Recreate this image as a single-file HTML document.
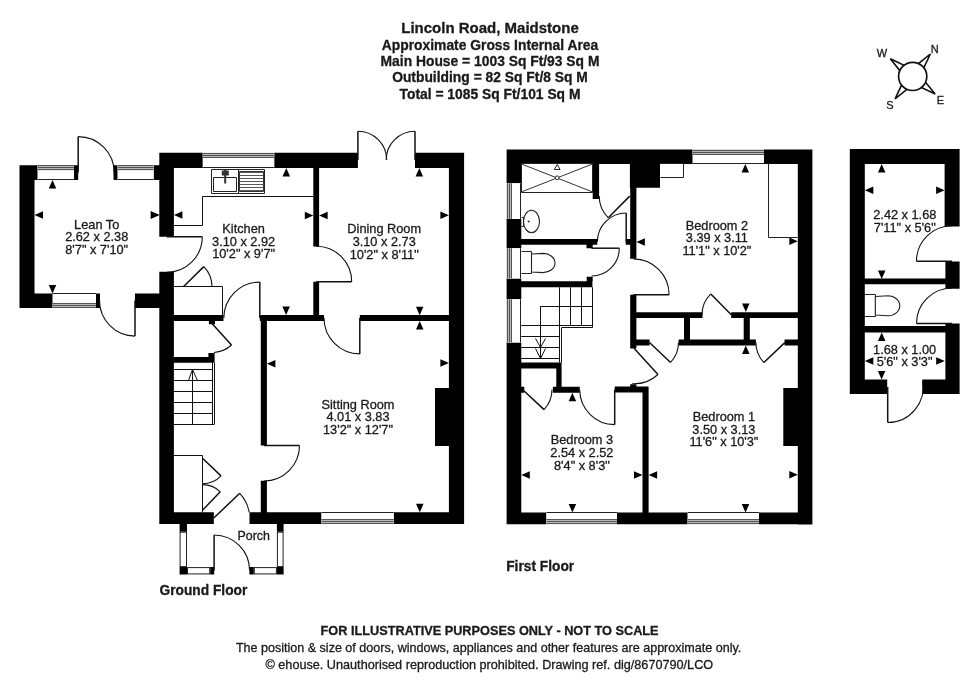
<!DOCTYPE html>
<html><head><meta charset="utf-8"><style>
html,body{margin:0;padding:0;background:#fff;width:980px;height:692px;overflow:hidden}
svg{display:block}
text{font-family:"Liberation Sans",sans-serif}
svg{will-change:transform}
</style></head><body>
<svg width="980" height="692" viewBox="0 0 980 692">
<rect width="980" height="692" fill="#fff"/>
<path fill="#000" d="M19.5 165.3H34.5V307.9H19.5ZM19.5 165.3H37.7V180H19.5ZM74 165.3H78.2V180H74ZM113.5 165.3H117.7V180H113.5ZM153.6 165.3H159.5V180H153.6ZM19.5 293.4H52.7V307.9H19.5ZM96 293.4H100V307.9H96ZM135 293.4H159.5V307.9H135ZM159.3 152.8H202.8V167.9H159.3ZM274.2 152.8H357.9V167.9H274.2ZM415 152.8H464.1V167.9H415ZM159.3 152.8H173.9V236.8H159.3ZM159.3 271.8H173.9V523.9H159.3ZM448.9 152.8H464.1V524H448.9ZM159.3 512.3H213.8V523.9H159.3ZM249.5 512.3H321.5V523.9H249.5ZM393.7 512.3H464.1V523.9H393.7ZM313.3 167.3H319.1V246.5H313.3ZM313.3 281.7H319.1V321.1H313.3ZM173.9 315.1H223.5V321.1H173.9ZM259.8 315.1H324V321.1H259.8ZM359.8 315.1H449.6V321.1H359.8ZM260.8 315.1H266.9V445.5H260.8ZM260.8 480.7H266.9V512.3H260.8ZM173.9 356.9H214.4V362.7H173.9ZM208.4 353.1H214.6V362.7H208.4ZM208.9 321.1H215V324.3H208.9ZM435 388.1H449.6V445.9H435ZM179.6 523H187V531.7H179.6ZM179.6 567.1H187V574.4H179.6ZM210.2 567.1H214.2V574.4H210.2ZM249.4 567.1H253.8V574.4H249.4ZM276.9 567.1H283.6V574.4H276.9ZM276.9 523H283.6V531.7H276.9ZM506.6 149.5H692.7V163.9H506.6ZM764 149.5H812.4V163.9H764ZM506.6 149.5H521.3V183.3H506.6ZM506.6 218.9H521.3V248.2H506.6ZM506.6 278.5H521.3V299.3H506.6ZM506.6 342.5H521.3V524.2H506.6ZM797.8 149.5H812.4V524.4H797.8ZM506.6 512.4H546.4V524.2H506.6ZM617 512.4H687.7V524.2H617ZM759 512.4H812.4V524.2H759ZM783.3 388.1H797.8V445.9H783.3ZM592.7 163.9H599.1V199.1H592.7ZM521.3 238.9H597.3V244.8H521.3ZM586.5 244.8H592.7V248.2H586.5ZM625.7 238.9H630.2V244.8H625.7ZM521.3 281.3H592.4V287.2H521.3ZM586.7 276.8H592.7V281.3H586.7ZM629.9 163.9H660V187.7H629.9ZM630.2 163.9H636.4V258.7H630.2ZM630.2 294.7H636.4V348.5H630.2ZM521.3 362.5H561.6V368.5H521.3ZM556.3 362.5H561.6V392.8H556.3ZM521.3 386.7H524.3V392.8H521.3ZM552.9 386.7H579.7V392.8H552.9ZM614.7 386.4H648.6V392.5H614.7ZM642.5 386.4H648.6V512.4H642.5ZM630.2 384.2H636.4V386.6H630.2ZM636.4 312.2H702.5V318H636.4ZM731.2 312.2H797.8V318H731.2ZM684 318H690V339.7H684ZM743.7 318H749.8V339.7H743.7ZM630.2 339.6H649.6V345.5H630.2ZM678.6 339.6H755.9V345.5H678.6ZM784.5 339.6H797.8V345.5H784.5ZM849.8 149H959.6V164H849.8ZM849.8 149H864.8V394H849.8ZM944.6 149H959.6V226.5H944.6ZM945.4 261.6H959.6V288.8H945.4ZM945.4 323.5H959.6V394H945.4ZM864.8 278.6H945.4V284.3H864.8ZM864.8 326.1H945.4V332.5H864.8ZM849.8 379.5H887.2V394H849.8ZM922.3 379.5H959.6V394H922.3Z"/>
<rect x="37.7" y="165.3" width="36.3" height="14.7" fill="#fff"/>
<rect x="37.7" y="165.3" width="36.3" height="5" fill="#b8b8b8"/>
<line x1="37.7" y1="165.5" x2="74" y2="165.5" stroke="#555" stroke-width="1"/>
<line x1="37.7" y1="167.5" x2="74" y2="167.5" stroke="#555" stroke-width="1"/>
<line x1="37.7" y1="169.5" x2="74" y2="169.5" stroke="#555" stroke-width="1"/>
<line x1="37.7" y1="179.5" x2="74" y2="179.5" stroke="#222" stroke-width="1"/>
<rect x="117.7" y="165.3" width="35.9" height="14.7" fill="#fff"/>
<rect x="117.7" y="165.3" width="35.9" height="5" fill="#b8b8b8"/>
<line x1="117.7" y1="165.5" x2="153.6" y2="165.5" stroke="#555" stroke-width="1"/>
<line x1="117.7" y1="167.5" x2="153.6" y2="167.5" stroke="#555" stroke-width="1"/>
<line x1="117.7" y1="169.5" x2="153.6" y2="169.5" stroke="#555" stroke-width="1"/>
<line x1="117.7" y1="179.5" x2="153.6" y2="179.5" stroke="#222" stroke-width="1"/>
<rect x="52.7" y="293.4" width="43.3" height="14.5" fill="#fff"/>
<rect x="52.7" y="302.9" width="43.3" height="5" fill="#b8b8b8"/>
<line x1="52.7" y1="307.5" x2="96" y2="307.5" stroke="#555" stroke-width="1"/>
<line x1="52.7" y1="305.5" x2="96" y2="305.5" stroke="#555" stroke-width="1"/>
<line x1="52.7" y1="303.5" x2="96" y2="303.5" stroke="#555" stroke-width="1"/>
<line x1="52.7" y1="293.5" x2="96" y2="293.5" stroke="#222" stroke-width="1"/>
<path d="M78.2,172.6 L78.2,136.6" fill="none" stroke="#111" stroke-width="1.5"/>
<path d="M78.2,136.6 A36,36 0 0 1 114.2,172.6" fill="none" stroke="#111" stroke-width="1.1"/>
<path d="M135,300.6 L135,336.1" fill="none" stroke="#111" stroke-width="1.5"/>
<path d="M135,336.1 A35.5,35.5 0 0 1 99.5,300.6" fill="none" stroke="#111" stroke-width="1.1"/>
<polygon points="52.5,180 48.75,188.5 56.25,188.5" fill="#000"/>
<polygon points="52.5,293.4 48.75,284.9 56.25,284.9" fill="#000"/>
<polygon points="34.5,214.9 43,211.15 43,218.65" fill="#000"/>
<polygon points="159.3,214.9 150.8,211.15 150.8,218.65" fill="#000"/>
<rect x="202.8" y="152.8" width="71.4" height="15.1" fill="#fff"/>
<rect x="202.8" y="152.8" width="71.4" height="5" fill="#b8b8b8"/>
<line x1="202.8" y1="153.5" x2="274.2" y2="153.5" stroke="#555" stroke-width="1"/>
<line x1="202.8" y1="155.5" x2="274.2" y2="155.5" stroke="#555" stroke-width="1"/>
<line x1="202.8" y1="157.5" x2="274.2" y2="157.5" stroke="#555" stroke-width="1"/>
<line x1="202.8" y1="167.5" x2="274.2" y2="167.5" stroke="#222" stroke-width="1"/>
<rect x="321.5" y="512.3" width="72.2" height="11.6" fill="#fff"/>
<rect x="321.5" y="518.9" width="72.2" height="5" fill="#b8b8b8"/>
<line x1="321.5" y1="523.5" x2="393.7" y2="523.5" stroke="#555" stroke-width="1"/>
<line x1="321.5" y1="521.5" x2="393.7" y2="521.5" stroke="#555" stroke-width="1"/>
<line x1="321.5" y1="519.5" x2="393.7" y2="519.5" stroke="#555" stroke-width="1"/>
<line x1="321.5" y1="512.5" x2="393.7" y2="512.5" stroke="#222" stroke-width="1"/>
<path d="M357.9,160 L357.9,131.2" fill="none" stroke="#111" stroke-width="1.5"/>
<path d="M357.9,131.2 A28.8,28.8 0 0 1 386.7,160" fill="none" stroke="#111" stroke-width="1.1"/>
<path d="M415,160 L415,131.2" fill="none" stroke="#111" stroke-width="1.5"/>
<path d="M415,131.2 A28.8,28.8 0 0 0 386.2,160" fill="none" stroke="#111" stroke-width="1.1"/>
<path d="M166.8,236.8 L202.3,236.8" fill="none" stroke="#111" stroke-width="1.5"/>
<path d="M202.3,236.8 A35.5,35.5 0 0 1 166.8,272.3" fill="none" stroke="#111" stroke-width="1.1"/>
<polyline points="173.5,225.5 202.5,225.5 202.5,196.5 313.5,196.5" fill="none" stroke="#111" stroke-width="1.0"/>
<polygon points="211.5,169.5 264.5,169.5 264.5,193.5 211.5,193.5" fill="none" stroke="#222" stroke-width="1.0"/>
<line x1="238.5" y1="169.9" x2="238.5" y2="193.3" stroke="#222" stroke-width="1.0"/>
<polygon points="213.5,177.5 236.5,177.5 236.5,191.5 213.5,191.5" fill="none" stroke="#222" stroke-width="1.0"/>
<polygon points="239.5,171.5 263.5,171.5 263.5,191.5 239.5,191.5" fill="none" stroke="#333" stroke-width="1.0"/>
<line x1="239.6" y1="172.5" x2="263.5" y2="172.5" stroke="#444" stroke-width="0.9"/>
<line x1="239.6" y1="175.5" x2="263.5" y2="175.5" stroke="#444" stroke-width="0.9"/>
<line x1="239.6" y1="178.5" x2="263.5" y2="178.5" stroke="#444" stroke-width="0.9"/>
<line x1="239.6" y1="181.5" x2="263.5" y2="181.5" stroke="#444" stroke-width="0.9"/>
<line x1="239.6" y1="184.5" x2="263.5" y2="184.5" stroke="#444" stroke-width="0.9"/>
<line x1="239.6" y1="187.5" x2="263.5" y2="187.5" stroke="#444" stroke-width="0.9"/>
<line x1="239.6" y1="190.5" x2="263.5" y2="190.5" stroke="#444" stroke-width="0.9"/>
<rect x="221.8" y="170.6" width="7" height="4.9" fill="#333"/>
<line x1="225.2" y1="170" x2="225.2" y2="183.5" stroke="#333" stroke-width="2"/>
<polyline points="173.5,286.5 222.5,286.5 222.5,315.5" fill="none" stroke="#111" stroke-width="1.0"/>
<path d="M183.4,286.7 L203.8,266.65" fill="none" stroke="#111" stroke-width="1.5"/>
<path d="M203.8,266.65 A28.6,28.6 0 0 1 212,286.7" fill="none" stroke="#111" stroke-width="1.1"/>
<path d="M259.8,318.1 L259.8,282.1" fill="none" stroke="#111" stroke-width="1.5"/>
<path d="M259.8,282.1 A36,36 0 0 0 223.8,318.1" fill="none" stroke="#111" stroke-width="1.1"/>
<path d="M316.2,281.7 L351.7,281.7" fill="none" stroke="#111" stroke-width="1.5"/>
<path d="M351.7,281.7 A35.5,35.5 0 0 0 316.2,246.2" fill="none" stroke="#111" stroke-width="1.1"/>
<path d="M359.8,318.1 L359.8,353.9" fill="none" stroke="#111" stroke-width="1.5"/>
<path d="M359.8,353.9 A35.8,35.8 0 0 1 324,318.1" fill="none" stroke="#111" stroke-width="1.1"/>
<path d="M264,445.5 L299.5,445.5" fill="none" stroke="#111" stroke-width="1.5"/>
<path d="M299.5,445.5 A35.5,35.5 0 0 1 264,481" fill="none" stroke="#111" stroke-width="1.1"/>
<path d="M212,323.5 L231.48,344.98" fill="none" stroke="#111" stroke-width="1.5"/>
<path d="M231.48,344.98 A29,29 0 0 1 214.02,352.43" fill="none" stroke="#111" stroke-width="1.1"/>
<polyline points="173.5,424.5 214.5,424.5" fill="none" stroke="#111" stroke-width="1.1"/>
<line x1="212.5" y1="362.7" x2="212.5" y2="424" stroke="#111" stroke-width="1.0"/>
<line x1="214.5" y1="362.7" x2="214.5" y2="424" stroke="#111" stroke-width="1.0"/>
<line x1="173.9" y1="369.5" x2="212.2" y2="369.5" stroke="#111" stroke-width="1.0"/>
<line x1="173.9" y1="380.5" x2="212.2" y2="380.5" stroke="#111" stroke-width="1.0"/>
<line x1="173.9" y1="391.5" x2="212.2" y2="391.5" stroke="#111" stroke-width="1.0"/>
<line x1="173.9" y1="402.5" x2="212.2" y2="402.5" stroke="#111" stroke-width="1.0"/>
<line x1="173.9" y1="413.5" x2="212.2" y2="413.5" stroke="#111" stroke-width="1.0"/>
<line x1="192.5" y1="369.9" x2="192.5" y2="424" stroke="#111" stroke-width="1.0"/>
<polyline points="188.5,380.5 192.5,369.5 197.5,380.5" fill="none" stroke="#111" stroke-width="1.0"/>
<polyline points="173.5,455.5 202.5,455.5 202.5,512.5" fill="none" stroke="#111" stroke-width="1.0"/>
<path d="M202.5,458.2 L221.01,475.89" fill="none" stroke="#111" stroke-width="1.5"/>
<path d="M221.01,475.89 A25.6,25.6 0 0 1 202.5,483.8" fill="none" stroke="#111" stroke-width="1.1"/>
<path d="M202.5,510.2 L220.28,491.78" fill="none" stroke="#111" stroke-width="1.5"/>
<path d="M220.28,491.78 A25.6,25.6 0 0 0 202.5,484.6" fill="none" stroke="#111" stroke-width="1.1"/>
<path d="M213.8,518 L239.73,493.31" fill="none" stroke="#111" stroke-width="1.5"/>
<path d="M239.73,493.31 A35.8,35.8 0 0 1 249.16,512.4" fill="none" stroke="#111" stroke-width="1.1"/>
<polygon points="286.3,167.9 282.55,176.4 290.05,176.4" fill="#000"/>
<polygon points="286.1,315.1 282.35,306.6 289.85,306.6" fill="#000"/>
<polygon points="159.3,214.9 150.8,211.15 150.8,218.65" fill="#000"/>
<polygon points="173.9,214.9 182.4,211.15 182.4,218.65" fill="#000"/>
<polygon points="313.3,215.4 304.8,211.65 304.8,219.15" fill="#000"/>
<polygon points="319.1,215.4 327.6,211.65 327.6,219.15" fill="#000"/>
<polygon points="419.3,167.9 415.55,176.4 423.05,176.4" fill="#000"/>
<polygon points="448.9,215.3 440.4,211.55 440.4,219.05" fill="#000"/>
<polygon points="419.7,315.3 415.95,306.8 423.45,306.8" fill="#000"/>
<polygon points="419.7,321.1 415.95,329.6 423.45,329.6" fill="#000"/>
<polygon points="266.9,363.8 275.4,360.05 275.4,367.55" fill="#000"/>
<polygon points="448.9,363 440.4,359.25 440.4,366.75" fill="#000"/>
<polygon points="419.8,512.3 416.05,503.8 423.55,503.8" fill="#000"/>
<rect x="180.1" y="532.2" width="6.4" height="34.4" fill="#fff" stroke="#222" stroke-width="1"/>
<rect x="187.5" y="567.6" width="22.2" height="6.3" fill="#fff" stroke="#222" stroke-width="1"/>
<rect x="254.3" y="567.6" width="22.1" height="6.3" fill="#fff" stroke="#222" stroke-width="1"/>
<rect x="277.4" y="532.2" width="5.7" height="34.4" fill="#fff" stroke="#222" stroke-width="1"/>
<path d="M214.1,570.5 L214.1,535" fill="none" stroke="#111" stroke-width="1.5"/>
<path d="M214.1,535 A35.5,35.5 0 0 1 249.6,570.5" fill="none" stroke="#111" stroke-width="1.1"/>
<rect x="692.7" y="149.5" width="71.3" height="14.4" fill="#fff"/>
<rect x="692.7" y="149.5" width="71.3" height="5" fill="#b8b8b8"/>
<line x1="692.7" y1="150.5" x2="764" y2="150.5" stroke="#555" stroke-width="1"/>
<line x1="692.7" y1="152.5" x2="764" y2="152.5" stroke="#555" stroke-width="1"/>
<line x1="692.7" y1="154.5" x2="764" y2="154.5" stroke="#555" stroke-width="1"/>
<line x1="692.7" y1="163.5" x2="764" y2="163.5" stroke="#222" stroke-width="1"/>
<rect x="506.6" y="183.3" width="14.7" height="35.6" fill="#fff"/>
<rect x="506.6" y="183.3" width="5" height="35.6" fill="#b8b8b8"/>
<line x1="507.5" y1="183.3" x2="507.5" y2="218.9" stroke="#555" stroke-width="1"/>
<line x1="509.5" y1="183.3" x2="509.5" y2="218.9" stroke="#555" stroke-width="1"/>
<line x1="511.5" y1="183.3" x2="511.5" y2="218.9" stroke="#555" stroke-width="1"/>
<line x1="520.5" y1="183.3" x2="520.5" y2="218.9" stroke="#222" stroke-width="1"/>
<rect x="506.6" y="248.2" width="14.7" height="30.3" fill="#fff"/>
<rect x="506.6" y="248.2" width="5" height="30.3" fill="#b8b8b8"/>
<line x1="507.5" y1="248.2" x2="507.5" y2="278.5" stroke="#555" stroke-width="1"/>
<line x1="509.5" y1="248.2" x2="509.5" y2="278.5" stroke="#555" stroke-width="1"/>
<line x1="511.5" y1="248.2" x2="511.5" y2="278.5" stroke="#555" stroke-width="1"/>
<line x1="520.5" y1="248.2" x2="520.5" y2="278.5" stroke="#222" stroke-width="1"/>
<rect x="506.6" y="299.3" width="14.7" height="43.2" fill="#fff"/>
<rect x="506.6" y="299.3" width="5" height="43.2" fill="#b8b8b8"/>
<line x1="507.5" y1="299.3" x2="507.5" y2="342.5" stroke="#555" stroke-width="1"/>
<line x1="509.5" y1="299.3" x2="509.5" y2="342.5" stroke="#555" stroke-width="1"/>
<line x1="511.5" y1="299.3" x2="511.5" y2="342.5" stroke="#555" stroke-width="1"/>
<line x1="520.5" y1="299.3" x2="520.5" y2="342.5" stroke="#222" stroke-width="1"/>
<rect x="546.4" y="512.4" width="70.6" height="11.8" fill="#fff"/>
<rect x="546.4" y="519.2" width="70.6" height="5" fill="#b8b8b8"/>
<line x1="546.4" y1="523.5" x2="617" y2="523.5" stroke="#555" stroke-width="1"/>
<line x1="546.4" y1="521.5" x2="617" y2="521.5" stroke="#555" stroke-width="1"/>
<line x1="546.4" y1="519.5" x2="617" y2="519.5" stroke="#555" stroke-width="1"/>
<line x1="546.4" y1="512.5" x2="617" y2="512.5" stroke="#222" stroke-width="1"/>
<rect x="687.7" y="512.4" width="71.3" height="11.8" fill="#fff"/>
<rect x="687.7" y="519.2" width="71.3" height="5" fill="#b8b8b8"/>
<line x1="687.7" y1="523.5" x2="759" y2="523.5" stroke="#555" stroke-width="1"/>
<line x1="687.7" y1="521.5" x2="759" y2="521.5" stroke="#555" stroke-width="1"/>
<line x1="687.7" y1="519.5" x2="759" y2="519.5" stroke="#555" stroke-width="1"/>
<line x1="687.7" y1="512.5" x2="759" y2="512.5" stroke="#222" stroke-width="1"/>
<polygon points="521.5,163.5 592.5,163.5 592.5,192.5 521.5,192.5" fill="none" stroke="#222" stroke-width="1.0"/>
<line x1="521.3" y1="163.9" x2="592.7" y2="192" stroke="#333" stroke-width="1.0"/>
<line x1="521.3" y1="192" x2="592.7" y2="163.9" stroke="#333" stroke-width="1.0"/>
<circle cx="557.2" cy="177.8" r="1.9" fill="#fff" stroke="#222" stroke-width="1"/>
<polygon points="557.2,164.5 554.3,169.5 560.1,169.5" fill="#fff" stroke="#222" stroke-width="1"/>
<ellipse cx="531.5" cy="221.5" rx="8.0" ry="11.2" fill="#fff" stroke="#222" stroke-width="1.1"/>
<polyline points="521.5,217.5 523.5,217.5 523.5,226.5 521.5,226.5" fill="none" stroke="#222" stroke-width="1.0"/>
<circle cx="528.7" cy="221.5" r="1.1" fill="#333"/>
<path d="M629.7,196.1 L608.28,217.82" fill="none" stroke="#111" stroke-width="1.5"/>
<path d="M608.28,217.82 A30.5,30.5 0 0 1 599.2,196.1" fill="none" stroke="#111" stroke-width="1.1"/>
<path d="M626.2,241.8 L626.2,213" fill="none" stroke="#111" stroke-width="1.5"/>
<path d="M626.2,213 A28.8,28.8 0 0 0 597.4,241.8" fill="none" stroke="#111" stroke-width="1.1"/>
<path d="M591.5,248.2 L619.3,248.2" fill="none" stroke="#111" stroke-width="1.5"/>
<path d="M619.3,248.2 A27.8,27.8 0 0 1 591.5,276" fill="none" stroke="#111" stroke-width="1.1"/>
<polyline points="521.5,251.5 531.5,251.5 531.5,273.5 521.5,273.5" fill="none" stroke="#222" stroke-width="1.0"/>
<path d="M531.5,254 L543,253.4 A12,9.6 0 0 1 543,272.6 L531.5,272 Z" fill="#fff" stroke="#222" stroke-width="1.1"/>
<polyline points="660.5,163.5 683.5,163.5 683.5,177.5 660.5,177.5" fill="none" stroke="#222" stroke-width="1.0"/>
<path d="M633.3,294.7 L669.1,294.7" fill="none" stroke="#111" stroke-width="1.5"/>
<path d="M669.1,294.7 A35.8,35.8 0 0 0 633.3,258.9" fill="none" stroke="#111" stroke-width="1.1"/>
<line x1="559.5" y1="287.2" x2="559.5" y2="325.5" stroke="#111" stroke-width="1.0"/>
<line x1="570.5" y1="287.2" x2="570.5" y2="325.5" stroke="#111" stroke-width="1.0"/>
<line x1="581.5" y1="287.2" x2="581.5" y2="325.5" stroke="#111" stroke-width="1.0"/>
<line x1="592.5" y1="287.2" x2="592.5" y2="327.5" stroke="#111" stroke-width="1.0"/>
<line x1="540.4" y1="306.5" x2="592.6" y2="306.5" stroke="#111" stroke-width="1.0"/>
<line x1="540.5" y1="306.4" x2="540.5" y2="358.7" stroke="#111" stroke-width="1.0"/>
<line x1="521.3" y1="325.5" x2="592.6" y2="325.5" stroke="#111" stroke-width="1.0"/>
<line x1="561.8" y1="327.5" x2="592.6" y2="327.5" stroke="#111" stroke-width="1.0"/>
<line x1="559.5" y1="325.5" x2="559.5" y2="362.6" stroke="#111" stroke-width="1.0"/>
<line x1="561.5" y1="327.5" x2="561.5" y2="362.6" stroke="#111" stroke-width="1.0"/>
<line x1="521.3" y1="336.5" x2="559.9" y2="336.5" stroke="#111" stroke-width="1.0"/>
<line x1="521.3" y1="347.5" x2="559.9" y2="347.5" stroke="#111" stroke-width="1.0"/>
<line x1="521.3" y1="358.5" x2="559.9" y2="358.5" stroke="#111" stroke-width="1.0"/>
<polyline points="535.5,338.5 540.5,347.5 545.5,338.5" fill="none" stroke="#111" stroke-width="1.0"/>
<polyline points="535.5,348.5 540.5,358.5 545.5,348.5" fill="none" stroke="#111" stroke-width="1.0"/>
<path d="M522.5,389.5 L544.07,409.62" fill="none" stroke="#111" stroke-width="1.5"/>
<path d="M544.07,409.62 A29.5,29.5 0 0 0 552,389.5" fill="none" stroke="#111" stroke-width="1.1"/>
<path d="M614.7,389.6 L614.7,424.6" fill="none" stroke="#111" stroke-width="1.5"/>
<path d="M614.7,424.6 A35,35 0 0 1 579.7,389.6" fill="none" stroke="#111" stroke-width="1.1"/>
<path d="M649.5,342.5 L670.54,362.46" fill="none" stroke="#111" stroke-width="1.5"/>
<path d="M670.54,362.46 A29,29 0 0 0 678.5,342.5" fill="none" stroke="#111" stroke-width="1.1"/>
<path d="M731.5,315 L710.82,293.96" fill="none" stroke="#111" stroke-width="1.5"/>
<path d="M710.82,293.96 A29.5,29.5 0 0 0 702,315" fill="none" stroke="#111" stroke-width="1.1"/>
<path d="M784.8,342.6 L763.91,362.57" fill="none" stroke="#111" stroke-width="1.5"/>
<path d="M763.91,362.57 A28.9,28.9 0 0 1 755.9,342.6" fill="none" stroke="#111" stroke-width="1.1"/>
<path d="M634,348.3 L657.98,374.47" fill="none" stroke="#111" stroke-width="1.5"/>
<path d="M657.98,374.47 A35.5,35.5 0 0 1 632.14,383.75" fill="none" stroke="#111" stroke-width="1.1"/>
<polygon points="745.3,163.9 741.55,172.4 749.05,172.4" fill="#000"/>
<polygon points="797.8,241.2 789.3,237.45 789.3,244.95" fill="#000"/>
<polygon points="636.4,241.9 644.9,238.15 644.9,245.65" fill="#000"/>
<polygon points="745.8,312.1 742.05,303.6 749.55,303.6" fill="#000"/>
<polygon points="745.8,345.6 742.05,354.1 749.55,354.1" fill="#000"/>
<polygon points="572.4,392.8 568.65,401.3 576.15,401.3" fill="#000"/>
<polygon points="521.3,475.1 529.8,471.35 529.8,478.85" fill="#000"/>
<polygon points="642.5,475.1 634,471.35 634,478.85" fill="#000"/>
<polygon points="648.6,475.1 657.1,471.35 657.1,478.85" fill="#000"/>
<polygon points="572.4,512.4 568.65,503.9 576.15,503.9" fill="#000"/>
<polygon points="745.5,512.5 741.75,504 749.25,504" fill="#000"/>
<polygon points="797.8,474.8 789.3,471.05 789.3,478.55" fill="#000"/>
<polyline points="768.5,163.5 768.5,237.5 797.5,237.5" fill="none" stroke="#222" stroke-width="1.0"/>
<path d="M952,261.2 L916.5,261.2" fill="none" stroke="#111" stroke-width="1.5"/>
<path d="M916.5,261.2 A35.5,35.5 0 0 1 952,225.7" fill="none" stroke="#111" stroke-width="1.1"/>
<path d="M952,323.5 L916.5,323.5" fill="none" stroke="#111" stroke-width="1.5"/>
<path d="M916.5,323.5 A35.5,35.5 0 0 1 952,288" fill="none" stroke="#111" stroke-width="1.1"/>
<path d="M887.7,387 L887.7,422.5" fill="none" stroke="#111" stroke-width="1.5"/>
<path d="M887.7,422.5 A35.5,35.5 0 0 0 922.66,380.84" fill="none" stroke="#111" stroke-width="1.1"/>
<polyline points="864.5,294.5 875.5,294.5 875.5,316.5 864.5,316.5" fill="none" stroke="#222" stroke-width="1.0"/>
<path d="M875.3,296.5 L888,295.8 A11.8,10 0 0 1 888,315.8 L875.3,315 Z" fill="#fff" stroke="#222" stroke-width="1.1"/>
<polygon points="881.7,164 877.95,172.5 885.45,172.5" fill="#000"/>
<polygon points="864.8,190.3 873.3,186.55 873.3,194.05" fill="#000"/>
<polygon points="944.6,190.3 936.1,186.55 936.1,194.05" fill="#000"/>
<polygon points="881.7,279 877.95,270.5 885.45,270.5" fill="#000"/>
<polygon points="881.7,332.5 877.95,341 885.45,341" fill="#000"/>
<polygon points="881.6,379.5 877.85,371 885.35,371" fill="#000"/>
<polygon points="864.8,361 873.3,357.25 873.3,364.75" fill="#000"/>
<polygon points="944.7,361 936.2,357.25 936.2,364.75" fill="#000"/>
<polygon points="930.32,54 918.48,63.54 923.84,67.76" fill="#fff" stroke="#111" stroke-width="1.6" stroke-linejoin="miter"/>
<polygon points="935.1,94.02 925.56,82.18 921.34,87.54" fill="#fff" stroke="#111" stroke-width="1.6" stroke-linejoin="miter"/>
<polygon points="895.08,98.8 906.92,89.26 901.56,85.04" fill="#fff" stroke="#111" stroke-width="1.6" stroke-linejoin="miter"/>
<polygon points="890.3,58.78 899.84,70.62 904.06,65.26" fill="#fff" stroke="#111" stroke-width="1.6" stroke-linejoin="miter"/>
<circle cx="912.7" cy="76.4" r="14.1" fill="#fff" stroke="#111" stroke-width="1.7"/>
<text x="96.7" y="229" font-size="12.75" font-weight="400" text-anchor="middle" fill="#1a1a1a" stroke="#1a1a1a" stroke-width="0.3">Lean To</text>
<text x="96.7" y="241" font-size="12.75" font-weight="400" text-anchor="middle" fill="#1a1a1a" stroke="#1a1a1a" stroke-width="0.3">2.62 x 2.38</text>
<text x="96.7" y="254" font-size="12.75" font-weight="400" text-anchor="middle" fill="#1a1a1a" stroke="#1a1a1a" stroke-width="0.3">8'7" x 7'10"</text>
<text x="243.6" y="233" font-size="12.75" font-weight="400" text-anchor="middle" fill="#1a1a1a" stroke="#1a1a1a" stroke-width="0.3">Kitchen</text>
<text x="243.6" y="246" font-size="12.75" font-weight="400" text-anchor="middle" fill="#1a1a1a" stroke="#1a1a1a" stroke-width="0.3">3.10 x 2.92</text>
<text x="243.6" y="258" font-size="12.75" font-weight="400" text-anchor="middle" fill="#1a1a1a" stroke="#1a1a1a" stroke-width="0.3">10'2" x 9'7"</text>
<text x="384.2" y="233" font-size="12.75" font-weight="400" text-anchor="middle" fill="#1a1a1a" stroke="#1a1a1a" stroke-width="0.3">Dining Room</text>
<text x="384.2" y="246" font-size="12.75" font-weight="400" text-anchor="middle" fill="#1a1a1a" stroke="#1a1a1a" stroke-width="0.3">3.10 x 2.73</text>
<text x="384.2" y="259" font-size="12.75" font-weight="400" text-anchor="middle" fill="#1a1a1a" stroke="#1a1a1a" stroke-width="0.3">10'2" x 8'11"</text>
<text x="358" y="409" font-size="12.75" font-weight="400" text-anchor="middle" fill="#1a1a1a" stroke="#1a1a1a" stroke-width="0.3">Sitting Room</text>
<text x="358" y="421" font-size="12.75" font-weight="400" text-anchor="middle" fill="#1a1a1a" stroke="#1a1a1a" stroke-width="0.3">4.01 x 3.83</text>
<text x="358" y="434" font-size="12.75" font-weight="400" text-anchor="middle" fill="#1a1a1a" stroke="#1a1a1a" stroke-width="0.3">13'2" x 12'7"</text>
<text x="253.7" y="539.7" font-size="12.4" font-weight="400" text-anchor="middle" fill="#1a1a1a" stroke="#1a1a1a" stroke-width="0.3">Porch</text>
<text x="159.5" y="594.9" font-size="13.75" font-weight="700" text-anchor="start" fill="#1a1a1a" stroke="#1a1a1a" stroke-width="0.3">Ground Floor</text>
<text x="716.9" y="230" font-size="12.75" font-weight="400" text-anchor="middle" fill="#1a1a1a" stroke="#1a1a1a" stroke-width="0.3">Bedroom 2</text>
<text x="716.9" y="242" font-size="12.75" font-weight="400" text-anchor="middle" fill="#1a1a1a" stroke="#1a1a1a" stroke-width="0.3">3.39 x 3.11</text>
<text x="716.9" y="255" font-size="12.75" font-weight="400" text-anchor="middle" fill="#1a1a1a" stroke="#1a1a1a" stroke-width="0.3">11'1" x 10'2"</text>
<text x="581.9" y="444" font-size="12.75" font-weight="400" text-anchor="middle" fill="#1a1a1a" stroke="#1a1a1a" stroke-width="0.3">Bedroom 3</text>
<text x="581.9" y="457" font-size="12.75" font-weight="400" text-anchor="middle" fill="#1a1a1a" stroke="#1a1a1a" stroke-width="0.3">2.54 x 2.52</text>
<text x="581.9" y="470" font-size="12.75" font-weight="400" text-anchor="middle" fill="#1a1a1a" stroke="#1a1a1a" stroke-width="0.3">8'4" x 8'3"</text>
<text x="723.9" y="421" font-size="12.75" font-weight="400" text-anchor="middle" fill="#1a1a1a" stroke="#1a1a1a" stroke-width="0.3">Bedroom 1</text>
<text x="723.9" y="434" font-size="12.75" font-weight="400" text-anchor="middle" fill="#1a1a1a" stroke="#1a1a1a" stroke-width="0.3">3.50 x 3.13</text>
<text x="723.9" y="446" font-size="12.75" font-weight="400" text-anchor="middle" fill="#1a1a1a" stroke="#1a1a1a" stroke-width="0.3">11'6" x 10'3"</text>
<text x="506.2" y="571.3" font-size="13.75" font-weight="700" text-anchor="start" fill="#1a1a1a" stroke="#1a1a1a" stroke-width="0.3">First Floor</text>
<text x="904.8" y="218.9" font-size="12.75" font-weight="400" text-anchor="middle" fill="#1a1a1a" stroke="#1a1a1a" stroke-width="0.3">2.42 x 1.68</text>
<text x="904.8" y="231.7" font-size="12.75" font-weight="400" text-anchor="middle" fill="#1a1a1a" stroke="#1a1a1a" stroke-width="0.3">7'11" x 5'6"</text>
<text x="904.6" y="353.8" font-size="12.75" font-weight="400" text-anchor="middle" fill="#1a1a1a" stroke="#1a1a1a" stroke-width="0.3">1.68 x 1.00</text>
<text x="904.6" y="366.1" font-size="12.75" font-weight="400" text-anchor="middle" fill="#1a1a1a" stroke="#1a1a1a" stroke-width="0.3">5'6" x 3'3"</text>
<text x="934.7" y="52.6" font-size="11" font-weight="400" text-anchor="middle" fill="#1a1a1a" stroke="#1a1a1a" stroke-width="0.3">N</text>
<text x="940.4" y="103.8" font-size="11" font-weight="400" text-anchor="middle" fill="#1a1a1a" stroke="#1a1a1a" stroke-width="0.3">E</text>
<text x="889.9" y="108.6" font-size="11" font-weight="400" text-anchor="middle" fill="#1a1a1a" stroke="#1a1a1a" stroke-width="0.3">S</text>
<text x="881.9" y="56.9" font-size="11" font-weight="400" text-anchor="middle" fill="#1a1a1a" stroke="#1a1a1a" stroke-width="0.3">W</text>
<text x="490" y="33" font-size="15" font-weight="700" text-anchor="middle" fill="#1a1a1a" stroke="#1a1a1a" stroke-width="0.3">Lincoln Road, Maidstone</text>
<text x="490" y="49.8" font-size="13.85" font-weight="700" text-anchor="middle" fill="#1a1a1a" stroke="#1a1a1a" stroke-width="0.3">Approximate Gross Internal Area</text>
<text x="490" y="66" font-size="13.85" font-weight="700" text-anchor="middle" fill="#1a1a1a" stroke="#1a1a1a" stroke-width="0.3">Main House = 1003 Sq Ft/93 Sq M</text>
<text x="490" y="82.2" font-size="13.85" font-weight="700" text-anchor="middle" fill="#1a1a1a" stroke="#1a1a1a" stroke-width="0.3">Outbuilding = 82 Sq Ft/8 Sq M</text>
<text x="490" y="98.8" font-size="13.85" font-weight="700" text-anchor="middle" fill="#1a1a1a" stroke="#1a1a1a" stroke-width="0.3">Total = 1085 Sq Ft/101 Sq M</text>
<text x="489.6" y="634.9" font-size="12.72" font-weight="700" text-anchor="middle" fill="#1a1a1a" stroke="#1a1a1a" stroke-width="0.3">FOR ILLUSTRATIVE PURPOSES ONLY - NOT TO SCALE</text>
<text x="488.6" y="652.1" font-size="12.56" font-weight="400" text-anchor="middle" fill="#1a1a1a" stroke="#1a1a1a" stroke-width="0.3">The position &amp; size of doors, windows, appliances and other features are approximate only.</text>
<text x="489.3" y="668.8" font-size="12.66" font-weight="400" text-anchor="middle" fill="#1a1a1a" stroke="#1a1a1a" stroke-width="0.3">© ehouse. Unauthorised reproduction prohibited. Drawing ref. dig/8670790/LCO</text>
</svg>
</body></html>
